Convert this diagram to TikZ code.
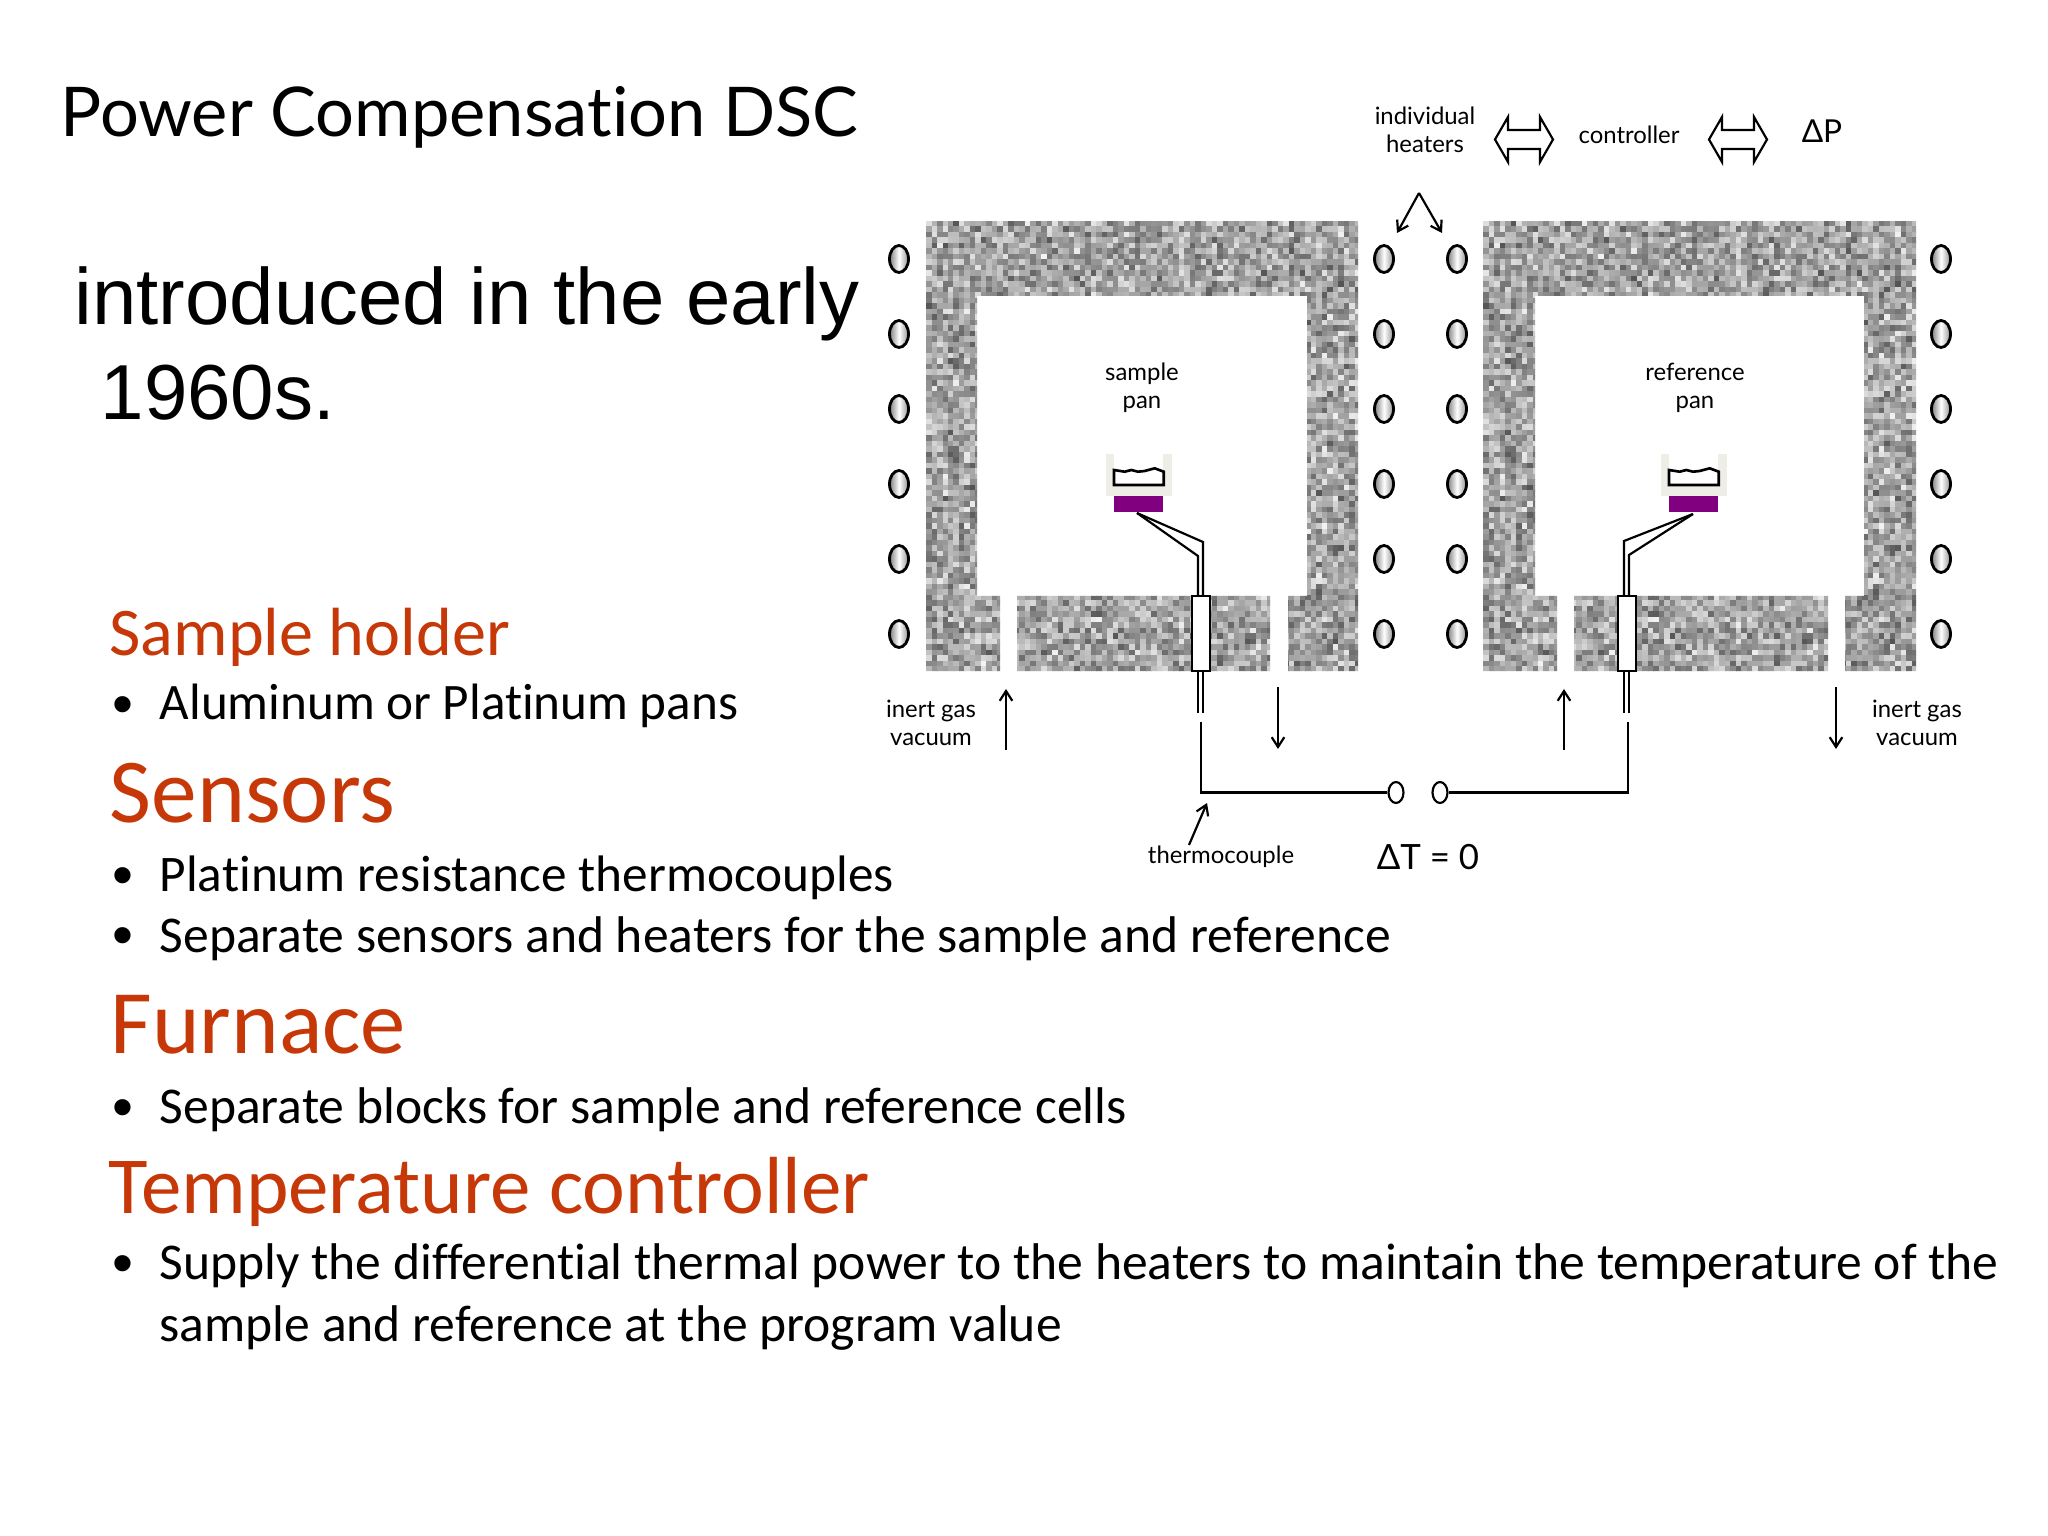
\documentclass[tikz,border=0pt]{standalone}
\usepackage{fontspec}
\usetikzlibrary{arrows.meta,shapes.geometric}
\setmainfont{Carlito}[Ligatures=NoCommon]
\newfontfamily\comicface{Lato}[Ligatures=NoCommon]
\newfontfamily\arialface{Liberation Sans}
\definecolor{headred}{RGB}{199,56,8}
\definecolor{panbeige}{RGB}{238,238,230}
\definecolor{panpurple}{RGB}{128,0,128}
\tikzset{
    >={Straight Barb[length=2.8pt,width=3.6pt]},
    wire/.style={line width=.62pt},
    bodytxt/.style={anchor=base west, inner sep=0, font=\fontsize{14.68}{17}\selectfont},
    dot/.style={anchor=base west, inner sep=0, font=\arialface\fontsize{17}{19}\selectfont},
    headtxt/.style={anchor=base west, inner sep=0, text=headred},
    label/.style={inner sep=0, align=center, font=\comicface\fontsize{6.8}{8}\selectfont},
    heater/.style={ellipse, draw, line width=.8pt, minimum width=.19cm, minimum height=.27cm, inner sep=0,
        left color=gray, right color=gray!85, middle color=white},
    terminal/.style={ellipse, draw, wire, fill=white, minimum width=.15cm, minimum height=.21cm, inner sep=0},
    tube/.style={rectangle, draw, line width=.7pt, fill=white, minimum width=.18cm, minimum height=.75cm, inner sep=0}
}
% furnace block: left, slit, slit, slit, slit, right, inner left, inner right
\newcommand{\furnaceblock}[8]{
    \begin{scope}
        \clip (#1,2.21) -- (#6,2.21) -- (#6,6.71) -- (#5,6.71) -- (#5,5.96) -- (#8,5.96) -- (#8,2.96)
            -- (#7,2.96) -- (#7,5.96) -- (#2,5.96) -- (#2,6.71) -- (#1,6.71) -- cycle
            (#3,5.96) rectangle (#4,6.71);
        \pgfmathsetseed{7}
        \begin{scope}[shift={(#1,2.21)}, x=.055cm, y=-.055cm]
            \foreach \i in {0,...,79}
                \foreach \j in {0,...,82} {
                    \ifnum\i>9 \ifnum\i<69 \ifnum\j>13 \ifnum\j<68 \else\speckcell\fi\else\speckcell\fi\else\speckcell\fi\else\speckcell\fi
                }
        \end{scope}
    \end{scope}
}
\newcommand{\speckcell}{
    \pgfmathrandominteger{\ga}{0}{32}
    \pgfmathrandominteger{\gb}{5}{35}
    \edef\gc{\the\numexpr\ga+\gb\relax}
    \fill[black!\gc!white] (\i,\j) rectangle (\i+1.1,\j+1.1);
}
% pan on its purple plate
\newcommand{\panholder}[1]{
    \begin{scope}[shift={(#1,4.7)}]
        \fill[panbeige] (-.08,-.16) rectangle (0,.26);
        \fill[panbeige] (.49,-.16) rectangle (.58,.26);
        \fill[panbeige] (-.08,.15) rectangle (.58,.26);
        \draw[line width=.75pt] (0,0) -- (.107,.017) -- (.173,0) -- (.24,.017) -- (.307,.01)
            -- (.407,-.017) -- (.497,.017) -- (.497,.15) -- (0,.15) -- cycle;
        \fill[panpurple] (0,.26) rectangle (.49,.425);
    \end{scope}
}
% outlined arrow with a head at both ends
\newcommand{\twinarrow}[1]{
    \draw[wire, shift={(#1,1.395)}] (-.29,0) -- (-.16,-.225) -- (-.16,-.095) -- (.16,-.095) -- (.16,-.225)
        -- (.29,0) -- (.16,.225) -- (.16,.095) -- (-.16,.095) -- (-.16,.225) -- cycle;
}
\begin{document}
\begin{tikzpicture}[x=1cm, y=-1cm]
    \useasboundingbox[fill=white] (0,0) rectangle (20.48,15.36);

    % left column of text
    \node[anchor=base west, inner sep=0, font=\comicface\fontsize{19.52}{22}\selectfont] (title) at (.60,1.37) {Power Compensation DSC};
    \node[anchor=base west, inner sep=0, font=\arialface\fontsize{22.7}{26}\selectfont] (intro) at (.74,3.25) {introduced in the early};
    \node[anchor=base west, inner sep=0, font=\arialface\fontsize{22.2}{26}\selectfont] (years) at (1.00,4.20) {1960s.};

    \node[headtxt, font=\fontsize{19.4}{22}\selectfont] (holder) at (1.09,6.56) {Sample holder};
    \node[dot] (dotA) at (1.12,7.24) {•};
    \node[bodytxt, font=\fontsize{14.55}{17}\selectfont] (pans) at (1.59,7.20) {Aluminum or Platinum pans};
    \node[headtxt, font=\fontsize{26}{29}\selectfont] (sensors) at (1.09,8.22) {Sensors};
    \node[dot] (dotB) at (1.12,8.95) {•};
    \node[bodytxt, font=\fontsize{14.6}{17}\selectfont] (couples) at (1.59,8.91) {Platinum resistance thermocouples};
    \node[dot] (dotC) at (1.12,9.56) {•};
    \node[bodytxt] (separate) at (1.59,9.52) {Separate sensors and heaters for the sample and reference};
    \node[headtxt, font=\fontsize{25.8}{29}\selectfont] (furnace) at (1.10,10.53) {Furnace};
    \node[dot] (dotD) at (1.12,11.27) {•};
    \node[bodytxt] (blocks) at (1.59,11.23) {Separate blocks for sample and reference cells};
    \node[headtxt, font=\fontsize{23.05}{26}\selectfont] (temp) at (1.08,12.13) {Temperature controller};
    \node[dot] (dotE) at (1.12,12.835) {•};
    \node[bodytxt] (supply) at (1.59,12.795) {Supply the differential thermal power to the heaters to maintain the temperature of the};
    \node[bodytxt] (program) at (1.59,13.41) {sample and reference at the program value};

    % furnace blocks
    \furnaceblock{9.26}{10.00}{10.17}{12.70}{12.88}{13.58}{9.77}{13.07}
    \furnaceblock{14.83}{15.57}{15.74}{18.28}{18.45}{19.16}{15.35}{18.64}

    % heaters
    \foreach \y [count=\n] in {2.59,3.34,4.09,4.84,5.59,6.34} {
        \node[heater] (ha\n) at (8.99,\y) {};
        \node[heater] (hb\n) at (13.84,\y) {};
        \node[heater] (hc\n) at (14.57,\y) {};
        \node[heater] (hd\n) at (19.41,\y) {};
    }

    % top row
    \node[label] (heaters) at (14.25,1.30) {individual\\heaters};
    \node[label] (controller) at (16.29,1.35) {controller};
    \node[label, font=\comicface\fontsize{9}{10}\selectfont] (dP) at (18.22,1.31) {ΔP};
    \twinarrow{15.24}
    \twinarrow{17.38}
    \coordinate (apex) at (14.19,1.93);
    \coordinate (apexL) at (13.97,2.33);
    \coordinate (apexR) at (14.42,2.33);
    \draw[->, wire] (apex) -- (apexL);
    \draw[->, wire] (apex) -- (apexR);

    % pans and thermocouple leads
    \node[label] (sample) at (11.42,3.88) {sample\\pan};
    \node[label] (reference) at (16.95,3.88) {reference\\pan};
    \panholder{11.14}
    \panholder{16.69}
    \node[tube] (tubeL) at (12.01,6.335) {};
    \node[tube] (tubeR) at (16.27,6.335) {};

    \coordinate (tipL) at (11.37,5.13);
    \coordinate (tipR) at (16.93,5.14);
    \draw[wire] (tipL) -- (12.03,5.42) -- (12.03,5.96);
    \draw[wire] (tipL) -- (11.98,5.56) -- (11.98,5.96);
    \draw[wire] (tipR) -- (16.24,5.41) -- (16.24,5.96);
    \draw[wire] (tipR) -- (16.29,5.55) -- (16.29,5.96);
    \draw[wire] (11.98,6.72) -- (11.98,7.13);
    \draw[wire] (12.03,6.72) -- (12.03,7.13);
    \draw[wire] (16.24,6.72) -- (16.24,7.13);
    \draw[wire] (16.29,6.72) -- (16.29,7.13);

    % circuit
    \node[terminal] (termL) at (13.96,7.925) {};
    \node[terminal] (termR) at (14.40,7.925) {};
    \coordinate (leadL) at (12.01,7.22);
    \coordinate (leadR) at (16.28,7.22);
    \draw[wire] (leadL) |- (termL);
    \draw[wire] (leadR) |- (termR);

    % gas lines
    \coordinate (gasA) at (10.06,7.50);
    \coordinate (gasB) at (10.06,6.89);
    \coordinate (gasC) at (12.78,6.87);
    \coordinate (gasD) at (12.78,7.49);
    \coordinate (gasE) at (15.64,7.50);
    \coordinate (gasF) at (15.64,6.89);
    \coordinate (gasG) at (18.36,6.87);
    \coordinate (gasH) at (18.36,7.49);
    \draw[->, wire] (gasA) -- (gasB);
    \draw[->, wire] (gasC) -- (gasD);
    \draw[->, wire] (gasE) -- (gasF);
    \draw[->, wire] (gasG) -- (gasH);

    \node[label] (gasL) at (9.31,7.23) {inert gas\\vacuum};
    \node[label] (gasR) at (19.17,7.23) {inert gas\\vacuum};

    \node[label] (thermo) at (12.21,8.57) {thermocouple};
    \coordinate (couple) at (12.07,8.03);
    \draw[->, wire] (11.89,8.45) -- (couple);
    \node[label, font=\comicface\fontsize{9.9}{11}\selectfont] (dT) at (14.28,8.57) {ΔT = 0};
\end{tikzpicture}
\end{document}
